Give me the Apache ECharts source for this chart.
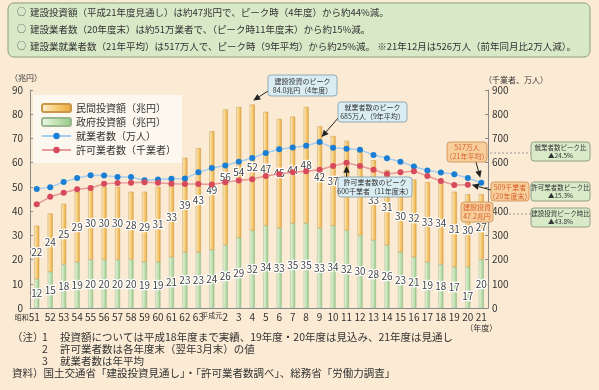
<!DOCTYPE html>
<html><head><meta charset="utf-8">
<script src="https://cdn.jsdelivr.net/npm/echarts@6/dist/echarts.min.js"></script>
<style>html,body{margin:0;padding:0;background:#fbebd4;}#c{width:599px;height:390px;}</style>
</head><body><div id="c"></div>
<script>
const categories = ['昭和51','52','53','54','55','56','57','58','59','60','61','62','63','平成元','2','3','4','5','6','7','8','9','10','11','12','13','14','15','16','17','18','19','20','21'];
const govInvest = [12,15,18,19,20,20,20,20,19,19,21,23,23,24,26,29,32,34,33,35,35,33,34,32,30,28,26,23,21,19,18,17,17,20];
const privInvest = [22,24,25,29,30,30,30,28,29,31,33,39,43,49,56,54,52,47,45,44,48,42,37,37,36,33,31,30,32,33,34,31,30,27];
const workers = [491,499,520,537,548,547,541,541,527,530,534,535,560,578,588,604,619,640,655,663,670,685,662,657,653,632,618,604,584,568,559,552,537,517];
const licensed = [428,459,476,490,495,513,516,517,519,517,513,512,512,510,519,526,532,545,553,560,565,571,586,600,586,571,553,560,565,545,524,508,509,null];
const leftTicks = {min:0,max:90,interval:10};
const rightTicks = {min:0,max:900,interval:100};
const summaryLines = [
 '建設投資額（平成21年度見通し）は約47兆円で、ピーク時（4年度）から約44%減。',
 '建設業者数（20年度末）は約51万業者で、（ピーク時11年度末）から約15%減。',
 '建設業就業者数（21年平均）は517万人で、ピーク時（9年平均）から約25%減。 ※21年12月は526万人（前年同月比2万人減）。'
];
const noteLines = [
 ['（注）','1','投資額については平成18年度まで実績、19年度・20年度は見込み、21年度は見通し'],
 ['','2','許可業者数は各年度末（翌年3月末）の値'],
 ['','3','就業者数は年平均']
];
const sourceLine = '資料）国土交通省「建設投資見通し」・「許可業者数調べ」、総務省「労働力調査」';

const FONT = '"Noto Sans CJK JP","Noto Sans",sans-serif';
const chart = echarts.init(document.getElementById('c'));
const orangeGrad = new echarts.graphic.LinearGradient(0,0,1,0,[{offset:0,color:'#fdf2d8'},{offset:0.5,color:'#f6cd78'},{offset:1,color:'#eba63a'}]);
const greenGrad = new echarts.graphic.LinearGradient(0,0,1,0,[{offset:0,color:'#eef7e8'},{offset:0.5,color:'#c4e2b4'},{offset:1,color:'#93c684'}]);
const valLabel = {show:true, position:'inside', fontSize:10, fontFamily:FONT, color:'#444', textBorderColor:'#fff', textBorderWidth:2.5};

const govData = govInvest.map((v,i)=> i===32 ? {value:v, label:{offset:[0,9]}} : v);

chart.setOption({
  backgroundColor:'#fbebd4',
  animation:false,
  textStyle:{fontFamily:FONT},
  grid:{left:30, right:111, top:90, bottom:82},
  legend:{
    orient:'vertical', left:33, top:95, padding:[7,6,7,8], itemGap:2,
    itemWidth:29, itemHeight:8, backgroundColor:'#fdf8ef',
    textStyle:{fontSize:10, color:'#333', lineHeight:12, fontFamily:FONT},
    data:['民間投資額（兆円）','政府投資額（兆円）','就業者数（万人）','許可業者数（千業者）']
  },
  xAxis:{
    type:'category', data:categories,
    axisLine:{lineStyle:{color:'#8a8a8a'}},
    axisTick:{inside:true, length:3, lineStyle:{color:'#8a8a8a'}},
    axisLabel:{interval:0, margin:4, color:'#333',
      formatter:v=> v==='昭和51' ? '{s|昭和}{n0|51}' : v==='平成元' ? '{s|平成元}' : v==='21' ? '{n|21}\n{s2|（年度）}' : '{n|'+v+'}',
      rich:{n:{fontSize:10,color:'#333',fontFamily:FONT}, n0:{fontSize:10,color:'#333',padding:[0,19,0,0],fontFamily:FONT}, s:{fontSize:7,color:'#333',fontFamily:FONT}, s2:{fontSize:8,color:'#333',fontFamily:FONT,lineHeight:12}}}
  },
  yAxis:[
    {type:'value', min:leftTicks.min, max:leftTicks.max, interval:leftTicks.interval,
     axisLine:{show:true,lineStyle:{color:'#8a8a8a'}}, axisTick:{show:true,inside:true,length:3},
     splitLine:{show:false}, axisLabel:{fontSize:10,color:'#333',margin:7}},
    {type:'value', min:rightTicks.min, max:rightTicks.max, interval:rightTicks.interval, position:'right',
     axisLine:{show:true,lineStyle:{color:'#8a8a8a'}}, axisTick:{show:true,inside:true,length:3},
     splitLine:{show:false}, axisLabel:{fontSize:10,color:'#333',margin:4}}
  ],
  series:[
    {name:'政府投資額（兆円）', type:'bar', stack:'inv', barWidth:5, data:govData,
     itemStyle:{color:greenGrad, borderColor:'#9ab890', borderWidth:0.5}, label:valLabel, z:2},
    {name:'民間投資額（兆円）', type:'bar', stack:'inv', barWidth:5, data:privInvest,
     itemStyle:{color:orangeGrad, borderColor:'#c9984a', borderWidth:0.5}, label:valLabel, z:2},
    {name:'就業者数（万人）', type:'line', yAxisIndex:1, data:workers, symbol:'circle', symbolSize:6,
     lineStyle:{color:'#a6ccf0', width:1.5}, itemStyle:{color:'#1a7fd4'}, z:4},
    {name:'許可業者数（千業者）', type:'line', yAxisIndex:1, data:licensed, symbol:'circle', symbolSize:6,
     lineStyle:{color:'#e89a9a', width:1.5}, itemStyle:{color:'#d64a5c'}, z:4}
  ]
});

function arrow(x1,y1,x2,y2){
  const a=Math.atan2(y2-y1,x2-x1), L=7, Wd=3.2;
  const bx=x2-L*Math.cos(a), by=y2-L*Math.sin(a);
  const px=-Math.sin(a)*Wd, py=Math.cos(a)*Wd;
  return [
    {type:'line', z:20, shape:{x1:x1,y1:y1,x2:bx,y2:by}, style:{stroke:'#222',lineWidth:1}},
    {type:'polygon', z:20, shape:{points:[[x2,y2],[bx+px,by+py],[bx-px,by-py]]}, style:{fill:'#222'}}
  ];
}
function box(x,y,w,h,text,fill,stroke,color,fs){
  return [
    {type:'rect', z:21, shape:{x:x,y:y,width:w,height:h,r:3}, style:{fill:fill,stroke:stroke,lineWidth:0.8}},
    {type:'text', z:22, x:x+w/2, y:y+h/2, style:{text:text, fill:color, font:fs+'px '+FONT, align:'center', verticalAlign:'middle', lineHeight:fs+2}}
  ];
}
const px = (series, idx, val) => chart.convertToPixel({seriesIndex:series}, [categories[idx], val]);
const g = [];
// top summary box
g.push({type:'rect', shape:{x:8,y:3,width:582,height:54,r:6}, style:{fill:'#d8e9c8',stroke:'#8c9c80',lineWidth:1}});
summaryLines.forEach((t,i)=>{
  g.push({type:'text', x:17, y:12+i*17, style:{text:'○', fill:'#444', font:'9px '+FONT, verticalAlign:'middle'}});
  g.push({type:'text', x:30, y:12+i*17, style:{text:t, fill:'#333', font:'9.5px '+FONT, verticalAlign:'middle'}});
});
// axis names
g.push({type:'text', x:10, y:78, style:{text:'（兆円）', fill:'#333', font:'8px '+FONT, verticalAlign:'middle'}});
g.push({type:'text', x:484, y:80, style:{text:'（千業者、万人）', fill:'#333', font:'8px '+FONT, verticalAlign:'middle'}});
// annotation: investment peak (4年度)
const peakIdx = 16;
const pInv = px(1, peakIdx, govInvest[peakIdx]+privInvest[peakIdx]);
g.push(...arrow(268,91,pInv[0]+1,pInv[1]-4));
g.push(...box(268,75,69,21,'建設投資のピーク\n84.0兆円（4年度）','#d9edf3','#7b9aaa','#333',7));
// workers peak
const wIdx = workers.indexOf(Math.max(...workers));
const pW = px(2, wIdx, workers[wIdx]);
g.push(...arrow(339,117,pW[0]+2,pW[1]-5));
g.push(...box(338,102,69,20,'就業者数のピーク\n685万人（9年平均）','#d9edf3','#7b9aaa','#333',7));
// licensed peak
const lIdx = 23;
const pL = px(3, lIdx, licensed[lIdx]);
g.push(...arrow(pL[0],177,pL[0],pL[1]+3));
g.push(...box(338,177,74,20,'許可業者数のピーク\n600千業者（11年度末）','#d9edf3','#7b9aaa','#333',7));
// 517万人
const pLastW = px(2, 33, workers[33]);
g.push(...arrow(476,162,pLastW[0]-1,pLastW[1]-5));
g.push(...box(447,142,40,20,'517万人\n（21年平均）','#f7cf9c','#c98a50','#d9602a',7));
// 509千業者
const pLastL = px(3, 32, licensed[32]);
g.push(...arrow(491,190,pLastL[0]+4,pLastL[1]));
g.push(...box(491,182,38,19,'509千業者\n（20年度末）','#f7cf9c','#c98a50','#d9602a',7));
// 建設投資 47.2兆円
g.push(...box(461,202,32,20,'建設投資\n47.2兆円','#f7cf9c','#c98a50','#d9602a',7));
// right green boxes
g.push({type:'line', shape:{x1:490,y1:153,x2:531,y2:153}, style:{stroke:'#999',lineWidth:1,lineDash:[2,2]}});
g.push({type:'line', shape:{x1:509,y1:214,x2:531,y2:214}, style:{stroke:'#999',lineWidth:1,lineDash:[2,2]}});
g.push(...box(531,142,59,19,'就業者数ピーク比\n▲24.5%','#d8eac8','#7f8e74','#333',6.5));
g.push(...box(531,182,59,19,'許可業者数ピーク比\n▲15.3%','#d8eac8','#7f8e74','#333',6.5));
g.push(...box(531,208,59,19,'建設投資ピーク時比\n▲43.8%','#d8eac8','#7f8e74','#333',6.5));
// notes
noteLines.forEach((n,i)=>{
  const y = 337 + i*12;
  if(n[0]) g.push({type:'text', x:12, y:y, style:{text:n[0], fill:'#333', font:'10.5px '+FONT, verticalAlign:'middle'}});
  g.push({type:'text', x:42, y:y, style:{text:n[1], fill:'#333', font:'10.5px '+FONT, verticalAlign:'middle'}});
  g.push({type:'text', x:60, y:y, style:{text:n[2], fill:'#333', font:'10.5px '+FONT, verticalAlign:'middle'}});
});
g.push({type:'text', x:12, y:373, style:{text:sourceLine, fill:'#333', font:'10.5px '+FONT, verticalAlign:'middle'}});
chart.setOption({graphic:{elements:g}});
</script>
</body></html>
